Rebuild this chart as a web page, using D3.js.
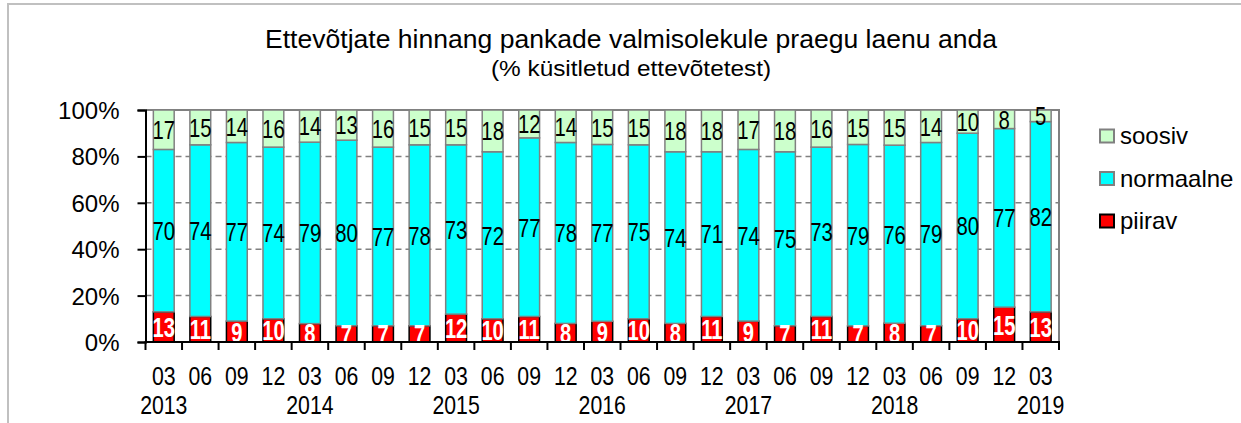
<!DOCTYPE html>
<html>
<head>
<meta charset="utf-8">
<script src="https://cdn.jsdelivr.net/npm/d3@7/dist/d3.min.js"></script>
<style>
  body { margin: 0; background: #fff; }
  text { font-family: Arial, "Liberation Sans", sans-serif; }
</style>
</head>
<body>
<div id="chart" style="width:1241px;height:423px;"></div>
<script>
// chart data
const quarters = ['03','06','09','12','03','06','09','12','03','06','09','12','03','06','09','12','03','06','09','12','03','06','09','12','03'];
const years = ['2013','','','','2014','','','','2015','','','','2016','','','','2017','','','','2018','','','','2019'];
const soosiv    = [17,15,14,16,14,13,16,15,15,18,12,14,15,15,18,18,17,18,16,15,15,14,10,8,5];
const normaalne = [70,74,77,74,79,80,77,78,73,72,77,78,77,75,74,71,74,75,73,79,76,79,80,77,82];
const piirav    = [13,11,9,10,8,7,7,7,12,10,11,8,9,10,8,11,9,7,11,7,8,7,10,15,13];
const seriesKeys = ['piirav','normaalne','soosiv'];
const legendKeys = ['soosiv','normaalne','piirav'];
const yTicks = [0, 0.2, 0.4, 0.6, 0.8, 1];

const colors = { piirav: '#ff0000', normaalne: '#00ffff', soosiv: '#ccffcc' };
const strokes = { piirav: '#000000', normaalne: '#808080', soosiv: '#808080' };

class LoanChart {

    constructor(el) {
        // plot area inside the svg
        this.plot = { left: 145.5, right: 1059, top: 110, bottom: 342 };
        this.el = el;
        this.rows = quarters.map((q, i) => ({ i: i, piirav: piirav[i], normaalne: normaalne[i], soosiv: soosiv[i] }));
        this.appendSVG();
        this.createScales();
        this.drawGrid();
        this.drawBars();
        this.attachAxes();
        this.drawLabels();
        this.drawLegend();
        this.drawTitle();
    }

    appendSVG() {
        this.svg = d3.select(this.el).append('svg')
            .attr('width', 1241)
            .attr('height', 423);

        // outer chart frame
        this.svg.append('rect')
            .attr('x', 8).attr('y', 4)
            .attr('width', 1250).attr('height', 440)
            .attr('fill', 'none')
            .attr('stroke', '#c0c0c0')
            .attr('stroke-width', 2);
    }

    createScales() {
        this.x = d3.scaleBand()
            .domain(d3.range(quarters.length))
            .range([this.plot.left, this.plot.right])
            .paddingInner(0.43)
            .paddingOuter(0.215);

        this.y = d3.scaleLinear()
            .domain([0, 1])
            .range([this.plot.bottom, this.plot.top]);

        this.stacked = d3.stack()
            .keys(seriesKeys)
            .offset(d3.stackOffsetExpand)(this.rows);
    }

    drawGrid() {
        const g = this.svg.append('g');
        g.selectAll('line')
            .data(yTicks.filter(t => t > 0 && t < 1))
            .enter().append('line')
            .attr('x1', this.plot.left).attr('x2', this.plot.right)
            .attr('y1', d => this.y(d)).attr('y2', d => this.y(d))
            .attr('stroke', '#808080')
            .attr('stroke-width', 1.5)
            .attr('stroke-dasharray', '6,4');

        // plot area border (top and right)
        g.append('path')
            .attr('d', `M${this.plot.left},${this.y(1)}H${this.plot.right}V${this.y(0)}`)
            .attr('fill', 'none')
            .attr('stroke', '#808080')
            .attr('stroke-width', 2);
    }

    drawBars() {
        const layers = this.svg.append('g').selectAll('g')
            .data(this.stacked)
            .enter().append('g')
            .attr('fill', d => colors[d.key])
            .attr('stroke', d => strokes[d.key])
            .attr('stroke-width', 1.5);

        layers.selectAll('rect')
            .data(d => d)
            .enter().append('rect')
            .attr('x', d => this.x(d.data.i))
            .attr('width', this.x.bandwidth())
            .attr('y', d => this.y(d[1]))
            .attr('height', d => this.y(d[0]) - this.y(d[1]));
    }

    attachAxes() {
        const yAxis = this.svg.append('g')
            .attr('transform', `translate(${this.plot.left},0)`)
            .call(d3.axisLeft(this.y).tickValues(yTicks).tickSize(8).tickFormat(d3.format('.0%')));
        yAxis.select('.domain').attr('stroke', '#000').attr('stroke-width', 2);
        yAxis.selectAll('.tick line').attr('stroke', '#000').attr('stroke-width', 2);
        yAxis.selectAll('.tick text')
            .attr('x', -26)
            .attr('dy', '0.35em')
            .attr('font-size', 24)
            .attr('font-family', 'Arial, "Liberation Sans", sans-serif')
            .attr('fill', '#000');

        // x axis: ticks on band boundaries
        const edges = d3.range(quarters.length + 1).map(i => this.plot.left + i * this.x.step());
        const xAxis = this.svg.append('g');
        xAxis.append('line')
            .attr('x1', this.plot.left - 1).attr('x2', this.plot.right + 1)
            .attr('y1', this.plot.bottom).attr('y2', this.plot.bottom)
            .attr('stroke', '#000').attr('stroke-width', 2);
        xAxis.selectAll('.edge')
            .data(edges)
            .enter().append('line')
            .attr('class', 'edge')
            .attr('x1', d => d).attr('x2', d => d)
            .attr('y1', this.plot.bottom).attr('y2', this.plot.bottom + 8)
            .attr('stroke', '#000').attr('stroke-width', 2);

        const cx = i => this.x(i) + this.x.bandwidth() / 2;
        xAxis.selectAll('.q')
            .data(quarters)
            .enter().append('text')
            .attr('class', 'q')
            .attr('text-anchor', 'middle')
            .attr('font-size', 25)
            .attr('transform', (d, i) => `translate(${cx(i)},${this.plot.bottom + 43}) scale(0.85,1)`)
            .text(d => d);
        xAxis.selectAll('.yr')
            .data(years)
            .enter().append('text')
            .attr('class', 'yr')
            .attr('text-anchor', 'middle')
            .attr('font-size', 25)
            .attr('transform', (d, i) => `translate(${cx(i)},${this.plot.bottom + 72}) scale(0.85,1)`)
            .text(d => d);
    }

    drawLabels() {
        this.svg.append('clipPath').attr('id', 'plotclip')
            .append('rect')
            .attr('x', this.plot.left).attr('y', this.plot.top - 4)
            .attr('width', this.plot.right - this.plot.left)
            .attr('height', this.plot.bottom - this.plot.top + 3);

        const g = this.svg.append('g').attr('clip-path', 'url(#plotclip)');
        this.stacked.forEach(layer => {
            const red = layer.key === 'piirav';
            g.selectAll('.lbl-' + layer.key)
                .data(layer)
                .enter().append('text')
                .attr('class', 'lbl-' + layer.key)
                .attr('text-anchor', 'middle')
                .attr('dy', '0.36em')
                .attr('font-size', red ? 28 : 26)
                .attr('font-weight', red ? 'bold' : 'normal')
                .attr('fill', red ? '#fff' : '#000')
                .attr('transform', d => `translate(${this.x(d.data.i) + this.x.bandwidth() / 2},${this.y((d[0] + d[1]) / 2)}) scale(${red ? 0.72 : 0.78},1)`)
                .text(d => d.data[layer.key]);
        });
    }

    drawLegend() {
        const g = this.svg.append('g');
        const item = g.selectAll('g')
            .data(legendKeys)
            .enter().append('g')
            .attr('transform', (d, i) => `translate(1100,${136 + i * 42.5})`);
        item.append('rect')
            .attr('x', 0).attr('y', -6.5)
            .attr('width', 14).attr('height', 13)
            .attr('fill', d => colors[d])
            .attr('stroke', d => d === 'piirav' ? '#000' : '#808080')
            .attr('stroke-width', 2);
        item.append('text')
            .attr('x', 20)
            .attr('dy', '0.35em')
            .attr('font-size', 24)
            .text(d => d);
    }

    drawTitle() {
        this.svg.append('text')
            .attr('x', 265).attr('y', 48)
            .attr('font-size', 26)
            .attr('textLength', 732)
            .attr('lengthAdjust', 'spacingAndGlyphs')
            .text('Ettevõtjate hinnang pankade valmisolekule praegu laenu anda');
        this.svg.append('text')
            .attr('x', 491).attr('y', 76)
            .attr('font-size', 22)
            .attr('textLength', 280)
            .attr('lengthAdjust', 'spacingAndGlyphs')
            .text('(% küsitletud ettevõtetest)');
    }
}

new LoanChart(document.getElementById('chart'));
</script>
</body>
</html>
